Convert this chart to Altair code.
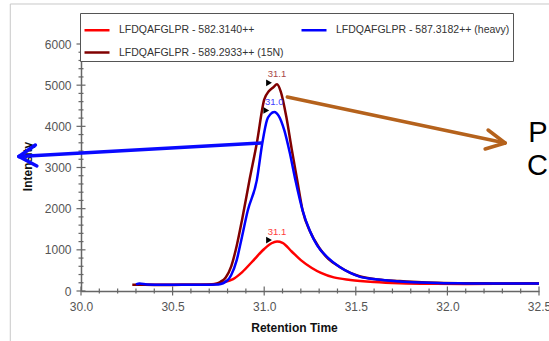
import altair as alt
import pandas as pd

# ---------------- data ----------------
series_names = ["LFDQAFGLPR - 582.3140++",
                "LFDQAFGLPR - 589.2933++ (15N)",
                "LFDQAFGLPR - 587.3182++ (heavy)"]
series_colors = ["#ff0000", "#800000", "#0000ff"]
label_colors = ["#ff3c3c", "#a84848", "#4040ff"]

t_light = [30.33, 30.45, 30.6, 30.7, 30.78, 30.83, 30.88, 30.94, 31.00, 31.04, 31.07, 31.10,
           31.15, 31.20, 31.26, 31.31, 31.38, 31.47, 31.6, 31.74, 31.9, 32.1, 32.3, 32.45, 32.5]
i_light = [150, 150, 150, 160, 210, 290, 460, 740, 1020, 1160, 1200, 1170,
           960, 750, 560, 440, 330, 270, 220, 190, 175, 170, 175, 190, 180]

t_heavy = [30.30, 30.32, 30.36, 30.45, 30.55, 30.65, 30.75, 30.80, 30.82, 30.85, 30.875, 30.91,
           30.96, 30.99, 31.015, 31.035, 31.055, 31.08, 31.11, 31.14, 31.17, 31.21, 31.25, 31.29,
           31.35, 31.41, 31.47, 31.52, 31.62, 31.74, 31.86, 31.98, 32.1, 32.25, 32.4, 32.5]
i_heavy = [160, 185, 160, 150, 150, 150, 160, 260, 390, 750, 1240, 1950,
           2700, 3600, 4150, 4300, 4350, 4250, 3900, 3350, 2700, 1950, 1450, 1100,
           800, 590, 440, 350, 280, 230, 205, 190, 185, 180, 180, 180]

t_15n = [30.28, 30.35, 30.45, 30.55, 30.65, 30.72, 30.76, 30.79, 30.82, 30.85, 30.88, 30.92,
         30.96, 31.00, 31.025, 31.05, 31.07, 31.09, 31.12, 31.15, 31.18, 31.21, 31.25, 31.30,
         31.35, 31.41, 31.47, 31.52, 31.62, 31.74, 31.86, 31.98, 32.1, 32.25, 32.4, 32.5]
i_15n = [150, 150, 145, 150, 150, 160, 220, 330, 600, 1100, 1750, 2700,
         3600, 4650, 4850, 4950, 5020, 4850, 4250, 3450, 2700, 1950, 1450, 1050,
         780, 590, 440, 360, 280, 240, 210, 195, 190, 185, 180, 180]

peak_times = [31.07, 31.07, 31.055]
peak_heights = [1200, 5020, 4350]
peak_labels = ["31.1", "31.1", "31.0"]

x_major = [30.0, 30.5, 31.0, 31.5, 32.0, 32.5]
x_minor = [30.1, 30.2, 30.3, 30.4, 30.6, 30.7, 30.8, 30.9, 31.1, 31.2, 31.3, 31.4,
           31.6, 31.7, 31.8, 31.9, 32.1, 32.2, 32.3, 32.4]
y_major = [0, 1000, 2000, 3000, 4000, 5000, 6000]
y_minor = [v for v in range(200, 6000, 200) if v % 1000 != 0]

# overlay annotation (slide arrows), in data units
arrow_x = [30.984, 29.661, 29.661, 31.126, 32.315, 32.315]
arrow_y = [3595, 3267, 3267, 4712, 3595, 3595]
arrow_x2 = [29.661, 29.751, 29.759, 32.315, 32.222, 32.206]
arrow_y2 = [3267, 3547, 3036, 3595, 3911, 3449]
arrow_col = ["#0a0aff", "#0a0aff", "#0a0aff", "#b5621c", "#b5621c", "#b5621c"]
slide_text = ["P", "C"]
slide_text_x = [32.441, 32.435]
slide_text_y = [3620, 2806]
frame_x = [29.614, 29.614]
frame_x2 = [32.56, 29.614]
frame_y = [6972, 6972]
frame_y2 = [6972, -1215]

# ---------------- tables ----------------
rows = []
for name, ts, vs in zip(series_names, [t_light, t_15n, t_heavy], [i_light, i_15n, i_heavy]):
    for t, v in zip(ts, vs):
        rows.append({"series": name, "t": t, "I": v})
df = pd.DataFrame(rows)

peaks = pd.DataFrame({"series": series_names, "t": peak_times, "I": peak_heights,
                      "label": peak_labels, "lc": label_colors})
xt = pd.DataFrame({"v": x_major + x_minor,
                   "h": [4.5] * len(x_major) + [2.5] * len(x_minor)})
yt = pd.DataFrame({"v": y_major + y_minor,
                   "h": [4.5] * len(y_major) + [2.5] * len(y_minor)})
arrows = pd.DataFrame({"x": arrow_x, "y": arrow_y, "x2": arrow_x2, "y2": arrow_y2, "c": arrow_col})
stext = pd.DataFrame({"x": slide_text_x, "y": slide_text_y, "s": slide_text})
frame = pd.DataFrame({"x": frame_x, "x2": frame_x2, "y": frame_y, "y2": frame_y2})

W, H = 458, 247
xs = alt.Scale(domain=[30.0, 32.5], nice=False, zero=False)
ys = alt.Scale(domain=[0, 6000], nice=False, zero=False)
FONT = "Liberation Sans"

x_axis = alt.Axis(values=x_major, format=".1f", title="Retention Time", ticks=False, tickSize=0,
                  labelPadding=10, labelFontSize=12, labelColor="#555", labelFont=FONT,
                  labelFlush=False, labelOverlap=False, labelBound=False,
                  domainColor="#666", domainWidth=1.5, grid=False,
                  titleFont=FONT, titleFontSize=12, titleFontWeight="bold", titleColor="#111",
                  titleX=213, titleY=36, titleBaseline="middle", titleAlign="center")
y_axis = alt.Axis(values=y_major, format="d", title="Intensity", ticks=False, tickSize=0,
                  labelPadding=10, labelFontSize=12, labelColor="#555", labelFont=FONT,
                  labelFlush=False, labelOverlap=False, labelBound=False,
                  domainColor="#666", domainWidth=1.5, grid=False,
                  titleFont=FONT, titleFontSize=12, titleFontWeight="bold", titleColor="#111",
                  titleX=-54, titleY=122, titleBaseline="middle", titleAlign="center", titleAngle=270)

X = lambda f: alt.X(f, scale=xs, axis=x_axis)
Y = lambda f: alt.Y(f, scale=ys, axis=y_axis)

lines = alt.Chart(df).mark_line(strokeWidth=2.5, interpolate="monotone").encode(
    x=X("t:Q"),
    y=Y("I:Q"),
    color=alt.Color("series:N", scale=alt.Scale(domain=series_names, range=series_colors),
                    legend=alt.Legend(title=None, orient="none", legendX=-1, legendY=-31,
                                      columns=2, columnPadding=12, rowPadding=2.5,
                                      symbolType="stroke", symbolSize=625, symbolStrokeWidth=2.5,
                                      labelFontSize=10.5, labelFont=FONT, labelColor="#333",
                                      labelLimit=400, labelOffset=8, padding=3,
                                      strokeColor="#555", fillColor="white")),
    order=alt.Order("t:Q"),
)

tri = alt.Chart(peaks).mark_point(shape="triangle-right", filled=True, color="black",
                                  size=45, opacity=1, xOffset=-8, yOffset=-1.5).encode(
    x=X("t:Q"), y=Y("I:Q"))

plabels = alt.Chart(peaks).mark_text(fontSize=9.5, font=FONT, dy=-10, baseline="middle",
                                     align="center").encode(
    x=X("t:Q"), y=Y("I:Q"),
    text="label:N", color=alt.Color("lc:N", scale=None))

xticks = alt.Chart(xt).mark_rule(color="#666", strokeWidth=1.2).encode(
    x=X("v:Q"),
    y=alt.YValue(alt.expr(f"{H} - datum.h")), y2=alt.Y2Value(alt.expr(f"{H} + datum.h")))
yticks = alt.Chart(yt).mark_rule(color="#666", strokeWidth=1.2).encode(
    y=Y("v:Q"),
    x=alt.XValue(alt.expr("-datum.h")), x2=alt.X2Value(alt.expr("datum.h")))

arrow_layer = alt.Chart(arrows).mark_rule(strokeWidth=3.5, strokeCap="round").encode(
    x=X("x:Q"), y=Y("y:Q"),
    x2="x2:Q", y2="y2:Q", color=alt.Color("c:N", scale=None))

text_layer = alt.Chart(stext).mark_text(fontSize=29, font=FONT, align="left",
                                        baseline="alphabetic", color="black").encode(
    x=X("x:Q"), y=Y("y:Q"), text="s:N")

frame_layer = alt.Chart(frame).mark_rule(color="#c8c8c8", strokeWidth=1).encode(
    x=X("x:Q"), y=Y("y:Q"),
    x2="x2:Q", y2="y2:Q")

chart = alt.layer(frame_layer, xticks, yticks, lines, tri, plabels, arrow_layer, text_layer).properties(
    width=W, height=H,
    autosize=alt.AutoSizeParams(type="none"),
    padding={"left": 81, "top": 44, "right": 10, "bottom": 50},
    background="white",
).configure_view(stroke=None)

chart.save("out.html", embed_options={"renderer": "svg", "actions": False})
